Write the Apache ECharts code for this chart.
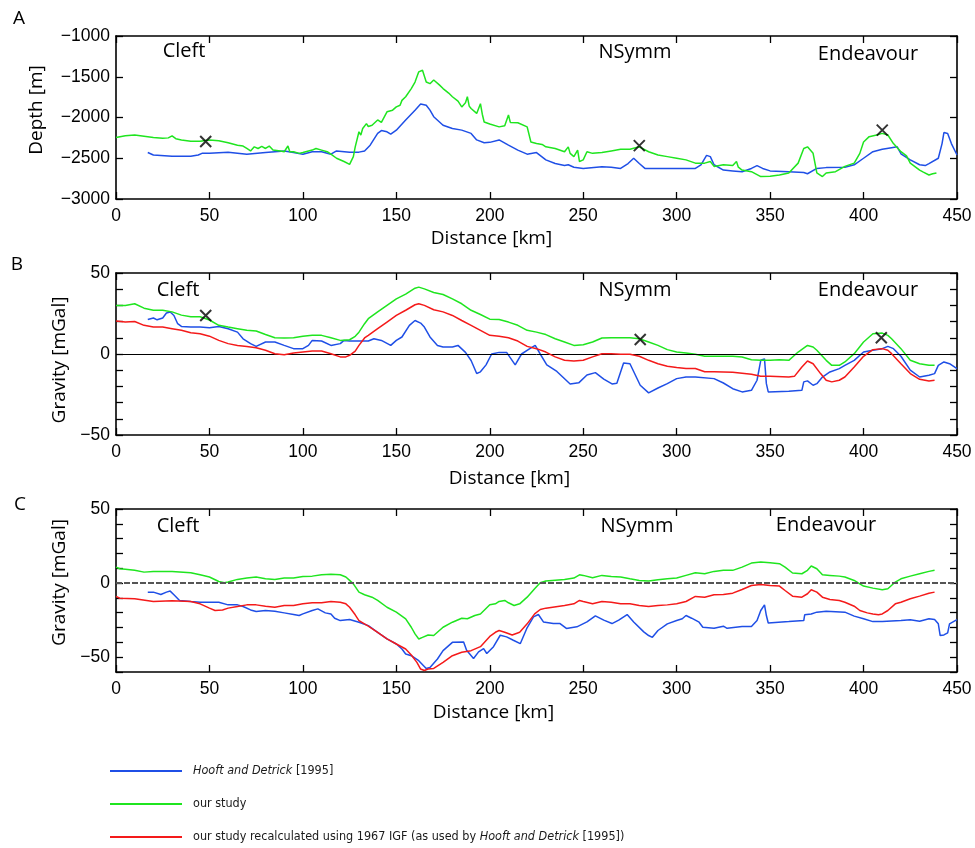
<!DOCTYPE html>
<html>
<head>
<meta charset="utf-8">
<script src="https://cdn.jsdelivr.net/npm/echarts@6/dist/echarts.min.js"></script>
<style>
html,body{margin:0;padding:0;background:#fff;}
#chart{width:975px;height:848px;}
</style>
</head>
<body>
<div id="chart"></div>
<script>
// ---------- DATA ----------
const seriesNames = ['Hooft and Detrick [1995]', 'our study', 'our study recalculated using 1967 IGF (as used by Hooft and Detrick [1995])'];
const xTicks = [0, 50, 100, 150, 200, 250, 300, 350, 400, 450];

// Panel A: depth [m]
const depthHooft = [[17,-2430],[20,-2460],[30,-2475],[40,-2475],[44,-2460],[46,-2440],[50,-2440],[60,-2425],[70,-2450],[80,-2430],[90,-2410],[95,-2430],[100,-2450],[105,-2420],[110,-2420],[115,-2450],[118,-2410],[125,-2425],[130,-2425],[133,-2410],[136,-2340],[140,-2195],[142,-2160],[145,-2175],[147,-2205],[150,-2155],[155,-2030],[160,-1910],[163,-1835],[166,-1850],[168,-1910],[170,-1990],[175,-2095],[180,-2135],[185,-2155],[190,-2195],[193,-2275],[197,-2310],[200,-2305],[205,-2275],[210,-2340],[215,-2400],[220,-2450],[225,-2430],[230,-2520],[235,-2565],[240,-2590],[242,-2580],[245,-2610],[250,-2625],[260,-2605],[265,-2610],[270,-2625],[274,-2565],[277,-2500],[280,-2565],[283,-2625],[290,-2625],[300,-2625],[310,-2625],[313,-2580],[316,-2465],[318,-2480],[320,-2580],[325,-2645],[330,-2655],[335,-2665],[340,-2625],[343,-2590],[346,-2625],[350,-2655],[360,-2665],[368,-2675],[370,-2690],[375,-2625],[380,-2615],[390,-2610],[395,-2580],[400,-2500],[405,-2420],[410,-2390],[415,-2370],[418,-2360],[420,-2445],[425,-2520],[430,-2580],[433,-2590],[435,-2565],[440,-2500],[442,-2320],[443,-2185],[445,-2195],[447,-2320],[450,-2460]];
const depthOur = [[0,-2245],[5,-2225],[10,-2215],[15,-2230],[20,-2245],[25,-2255],[28,-2250],[30,-2225],[32,-2260],[35,-2275],[40,-2290],[45,-2290],[50,-2275],[55,-2285],[60,-2310],[65,-2340],[68,-2350],[70,-2380],[72,-2410],[74,-2360],[76,-2380],[78,-2355],[80,-2380],[82,-2350],[84,-2400],[88,-2410],[90,-2420],[92,-2350],[93,-2420],[95,-2420],[98,-2440],[100,-2430],[103,-2410],[105,-2400],[107,-2380],[110,-2400],[113,-2420],[115,-2450],[118,-2500],[122,-2540],[125,-2575],[127,-2480],[128,-2360],[130,-2175],[131,-2215],[132,-2135],[134,-2075],[135,-2110],[137,-2095],[140,-2030],[142,-2060],[145,-1930],[148,-1910],[150,-1870],[152,-1850],[153,-1790],[155,-1745],[158,-1645],[160,-1565],[162,-1440],[164,-1420],[166,-1565],[168,-1585],[170,-1540],[173,-1600],[175,-1645],[178,-1700],[180,-1745],[183,-1800],[185,-1870],[187,-1820],[188,-1745],[189,-1860],[190,-1890],[193,-1950],[195,-1830],[196,-1960],[197,-2055],[200,-2080],[205,-2115],[208,-2100],[210,-1970],[211,-2060],[212,-2055],[215,-2065],[220,-2115],[222,-2300],[225,-2320],[228,-2330],[230,-2360],[235,-2380],[240,-2420],[242,-2360],[243,-2440],[245,-2480],[247,-2400],[248,-2540],[250,-2520],[252,-2420],[255,-2440],[260,-2430],[265,-2410],[270,-2390],[275,-2390],[280,-2360],[285,-2420],[290,-2460],[295,-2480],[300,-2500],[305,-2520],[310,-2560],[315,-2560],[318,-2540],[320,-2600],[325,-2580],[330,-2590],[332,-2540],[333,-2610],[335,-2645],[340,-2665],[345,-2725],[350,-2720],[355,-2705],[360,-2680],[365,-2560],[368,-2380],[370,-2360],[373,-2440],[375,-2680],[378,-2725],[380,-2680],[385,-2665],[390,-2600],[395,-2560],[398,-2440],[400,-2300],[403,-2235],[407,-2215],[410,-2195],[413,-2215],[416,-2320],[420,-2420],[423,-2470],[425,-2560],[430,-2645],[432,-2670],[435,-2705],[437,-2690],[439,-2680]];
const markersA = [[48,-2295],[280,-2345],[410,-2155]];

// Panel B: gravity [mGal]
const gravBHooft = [[17,21.3],[20,22.2],[22,21.1],[25,22.2],[27,25.3],[29,25.9],[31,23.8],[33,18.7],[35,17],[40,16.6],[45,16.6],[50,16.2],[55,17],[60,15.6],[65,13.5],[68,9.4],[72,6.4],[75,4.7],[80,7.4],[85,7.4],[90,5.3],[95,3.3],[100,3.3],[103,5.3],[105,8.4],[110,8],[115,5.3],[120,6.4],[122,8.4],[125,8],[130,8],[135,8],[138,9.4],[142,8.4],[147,5.3],[150,8.4],[153,10.5],[157,17.7],[160,20.7],[163,19.1],[165,16.6],[168,10.5],[172,5.3],[175,4.3],[180,4.3],[183,5.3],[187,1],[190,-4],[193,-12],[195,-11],[198,-6.7],[201,0],[205,1],[209,1],[213.6,-6.7],[217,0],[221,3],[224.3,5.3],[227,0],[230.5,-6.7],[235.9,-10.8],[243,-18.5],[247.6,-17.8],[252,-13],[256.5,-11.5],[261,-15.5],[265.4,-18.5],[268,-18],[271.6,-5.5],[275,-6],[280.5,-19.3],[285,-24],[290,-21],[295,-18.3],[300,-15.2],[305,-14.2],[310,-14.2],[320,-15.2],[325,-17.9],[330,-21.4],[335,-23.4],[340,-22.4],[343,-16.2],[345,-3.9],[347,-3],[348,-18.3],[349,-23.4],[360,-23],[367,-22.4],[368,-17.2],[370,-16.6],[373,-19.3],[375,-18.3],[378,-14.2],[382,-11.1],[387,-9],[390,-7],[395,-3.9],[400,1.2],[405,2.3],[410,3.3],[413,4.7],[416,3.3],[420,-1.4],[425,-10],[430,-14.2],[435,-13.1],[438,-12.1],[440,-7],[443,-4.9],[446,-6],[450,-9]];
const gravBOur = [[0,30],[5,30],[10,31],[15,28.3],[20,27],[25,27],[30,26],[35,24],[40,23],[45,23],[50,21],[55,17.7],[60,16.6],[65,15.6],[70,14.6],[75,14.2],[80,12],[85,10],[90,9.9],[95,10],[100,11],[105,11.5],[110,11.5],[115,10],[120,8.4],[125,8.8],[128,10.9],[130,13.5],[133,18.7],[135,21.8],[140,26],[145,30],[150,34],[155,37],[160,40.6],[162,41.3],[165,40.2],[170,38],[175,36.7],[180,34],[185,31],[190,27],[195,24.4],[200,21.5],[205,21.3],[210,19.7],[215,17.7],[220,14.6],[225,13.5],[230,12],[235,9.4],[240,7.4],[245,5.3],[250,5.7],[255,7.4],[260,9.9],[265,10],[270,10],[275,10],[280,9.4],[285,7.4],[290,5.3],[295,2.7],[300,1.2],[305,0.6],[310,-0.2],[315,-1.4],[320,-1.4],[325,-1.4],[330,-1.4],[335,-1.8],[340,-3.5],[345,-3.9],[350,-3.9],[355,-3.5],[360,-3.9],[365,1.2],[370,5.3],[373,4.3],[375,2.3],[380,-3.9],[383,-7],[387,-7],[390,-4.9],[395,0.2],[400,7.4],[405,12.5],[410,12.9],[413,11.5],[415,9.4],[420,3.3],[425,-3.9],[430,-6],[435,-7],[438,-7]];
const gravBIgf = [[0,20.3],[5,19.7],[10,20.1],[15,17.7],[20,16.6],[25,16.6],[30,15.6],[35,14.6],[40,13.1],[45,12.5],[50,11],[55,8.4],[60,6.4],[65,5.3],[70,4.7],[75,3.9],[80,2.3],[85,0.2],[90,-0.4],[95,0.6],[100,1.2],[105,1.8],[110,1.8],[115,0.2],[120,-1.8],[123,-1.8],[125,-0.8],[128,1.8],[130,5.3],[133,9.9],[135,11.5],[140,15.6],[145,19.7],[150,23.8],[155,27],[160,30.4],[162,31],[165,30],[170,27.3],[175,26],[180,23.8],[185,20.7],[190,17.7],[195,14.6],[200,11.5],[205,11],[210,10],[215,8],[220,4.7],[225,3.3],[230,1.2],[235,-1.8],[240,-3.9],[245,-4.3],[250,-3.9],[255,-1.8],[260,0.2],[265,0.2],[270,-0.2],[275,-0.2],[280,-1.4],[285,-3.9],[290,-6],[295,-7.6],[300,-8.4],[305,-9],[310,-9],[315,-11],[320,-11],[330,-11.3],[340,-12.5],[345,-13.8],[350,-13.8],[360,-14.2],[363,-13.8],[367,-8],[370,-4.3],[373,-6],[377,-12.1],[380,-16.2],[383,-17.2],[387,-16.2],[390,-14.2],[395,-8],[400,-1.4],[405,2.7],[410,3.3],[413,2.3],[415,0.2],[420,-6],[425,-12.1],[430,-15.6],[435,-16.6],[438,-16.2]];
const markersB = [[48,23.8],[280.5,9],[409.5,10]];

// Panel C: gravity [mGal]
const gravCHooft = [[17,-6.1],[20,-6.1],[24,-7.7],[27,-6.1],[29,-5.4],[31,-7.9],[34,-11.7],[40,-12.4],[45,-12.9],[50,-12.9],[55,-12.9],[60,-14.7],[65,-14.7],[68,-15.8],[72,-18.1],[75,-19.2],[80,-18.5],[85,-19],[90,-20.1],[95,-21.2],[98,-21.9],[100,-20.8],[105,-18.5],[108,-17.4],[112,-20.1],[115,-20.8],[117,-23.7],[120,-25.3],[125,-24.6],[130,-26.4],[135,-28.7],[140,-33.2],[145,-37.7],[150,-41.1],[153,-44.5],[155,-47.9],[158,-49],[162,-52.4],[166,-57.6],[168,-56.9],[172,-51.2],[175,-45.6],[180,-40],[186,-39.7],[187.6,-45.3],[191.3,-50.9],[194,-46.4],[196.7,-44.2],[198.4,-47.5],[202,-42.9],[205.6,-35.2],[209,-36.3],[212.6,-38.6],[216.3,-40.9],[219.8,-30.6],[223.4,-22.8],[226,-21.2],[228.7,-26.2],[234,-27.3],[237.6,-27.3],[241,-30.6],[246.6,-29.5],[252,-26.2],[256.5,-22.1],[261,-25],[265.4,-27.3],[269,-25],[273.5,-21.2],[277,-26.2],[282.4,-32.9],[285,-35.4],[287,-36.6],[290,-32],[295,-27.5],[300,-25.3],[303,-24.1],[305,-21.9],[308,-23.7],[312,-26.4],[314,-29.8],[320,-30.5],[325,-29.1],[327,-30.5],[335,-29.3],[340,-29.3],[343,-25.3],[345,-18.5],[347,-14.7],[348,-21.9],[349,-26.9],[360,-26],[368,-25.3],[368.5,-21.4],[372,-20.8],[375,-19.6],[380,-19],[390,-19.6],[395,-22.3],[400,-24.1],[405,-26],[410,-26],[420,-25.3],[425,-24.8],[430,-25.7],[435,-24.1],[438,-24.6],[440,-27.5],[441,-35.4],[443,-35],[445,-33.6],[446,-27.5],[450,-24.6]];
const gravCOur = [[0,10.8],[2,9.7],[5,9.3],[10,8.6],[15,7.4],[20,7.9],[30,7.9],[40,7],[45,5.6],[50,4.1],[55,1.1],[58,0.2],[60,0.7],[65,2.5],[70,3.4],[75,4.1],[80,2.9],[85,2.5],[90,3.4],[95,3.4],[100,4.5],[105,4.7],[110,5.6],[115,5.9],[120,5.6],[123,4.1],[125,1.8],[127,-0.5],[130,-6.1],[133,-7.9],[137,-9.5],[140,-11.7],[145,-16.3],[150,-19.6],[155,-24.1],[158,-29.8],[160,-34.3],[162,-37.7],[164,-36.6],[167,-35],[170,-35.4],[175,-29.8],[180,-26.4],[185,-23.7],[188,-24.1],[192,-21.9],[195,-20.8],[200,-14.6],[203,-14],[205,-12.4],[208,-11.7],[210,-13.3],[213,-15.1],[216,-14],[220,-9.5],[224,-3.8],[227,0.2],[230,1.4],[240,2.5],[245,3.4],[248,5.6],[250,5.2],[255,3.6],[260,5.2],[265,4.5],[270,4.1],[275,2.9],[280,1.8],[285,1.4],[290,2.3],[295,2.9],[300,3.4],[305,5.2],[310,7],[315,6.3],[320,7.9],[325,8.6],[330,8.6],[335,10.8],[340,13.5],[345,14.2],[350,13.8],[355,13.1],[358,10.8],[362,6.8],[367,6.3],[370,8.6],[372,11.5],[375,9.7],[378,5.6],[382,5.2],[387,4.7],[390,4.1],[395,1.8],[398,-0.5],[400,-2],[405,-3.4],[410,-4.5],[413,-3.8],[417,0.7],[420,2.9],[425,4.7],[430,6.3],[435,7.9],[438,8.6]];
const gravCIgf = [[0,-9],[2,-10.2],[10,-10.6],[20,-12.4],[30,-12],[40,-12.4],[45,-14],[50,-16.9],[53,-18.5],[57,-18.1],[60,-16.9],[65,-15.8],[70,-14.7],[75,-14.7],[80,-15.6],[85,-16.3],[90,-15.1],[95,-15.1],[100,-14],[105,-13.3],[110,-13.3],[115,-12.4],[120,-12.9],[123,-14],[125,-16.3],[128,-21.4],[130,-25.3],[135,-29.1],[140,-33.2],[145,-37.7],[150,-41.1],[155,-44.5],[158,-48.5],[161,-53.5],[163,-58],[165,-59],[167,-58],[170,-57.6],[175,-53.5],[180,-49],[185,-46.7],[190,-45.6],[195,-42.9],[200,-36],[203,-33.2],[205,-32],[208,-33.2],[212,-35],[216,-33.2],[220,-27.5],[224,-20.8],[227,-17.8],[230,-16.9],[240,-15.1],[245,-14],[248,-11.7],[250,-12.4],[255,-14],[260,-12.4],[265,-12.9],[270,-14],[275,-14],[280,-15.1],[285,-15.8],[290,-15.1],[295,-14.7],[300,-14],[305,-12.4],[310,-9],[315,-9.5],[320,-7.9],[325,-7.7],[330,-6.8],[335,-4.3],[340,-1.6],[345,-0.9],[350,-1.6],[355,-2],[358,-5],[362,-8.8],[367,-9.5],[370,-7.2],[372,-4.5],[375,-6.1],[378,-9.5],[382,-11.1],[387,-11.7],[390,-12.9],[395,-15.6],[398,-18.5],[402,-20.1],[405,-20.8],[408,-21.4],[410,-20.8],[413,-18.5],[417,-14],[420,-12.9],[425,-10.6],[430,-8.8],[435,-6.8],[438,-6.1]];

const depthTicks = [-3000, -2500, -2000, -1500, -1000];
const gravTickLabels = [-50, 0, 50];

// ---------- CHART ----------
const colors = ['#1f4fe6', '#1fe51f', '#f41a1a'];
const tickFont = 'Liberation Sans, Arial, sans-serif';
const nameFont = 'Open Sans, Lato, sans-serif';
const minus = v => String(v).replace('-', '\u2212');

const grids = [
  {left: 116, right: 18, top: 36, height: 163},
  {left: 116, right: 18, top: 273, height: 162},
  {left: 116, right: 18, top: 509, height: 163}
];
const axisLineStyle = {show: true, onZero: false, lineStyle: {color: '#000', width: 1.6}};
const tickStyle = {show: true, inside: true, length: 7, lineStyle: {color: '#000', width: 1.3}};
const xNamePad = [90, 54, 86];
const xNameGap = [30, 34, 31];

const xAxes = [];
grids.forEach((g, i) => {
  xAxes.push({
    type: 'value', gridIndex: i, position: 'bottom', min: xTicks[0], max: xTicks[xTicks.length - 1], interval: 50,
    axisLine: axisLineStyle, axisTick: tickStyle,
    axisLabel: {color: '#000', fontSize: 17.5, fontFamily: tickFont, margin: 8},
    splitLine: {show: false},
    name: 'Distance [km]', nameLocation: 'middle', nameGap: xNameGap[i],
    nameTextStyle: {color: '#000', fontSize: 19, fontFamily: nameFont, padding: [0, xNamePad[i], 0, 0]}
  });
});
grids.forEach((g, i) => {
  xAxes.push({
    type: 'value', gridIndex: i, position: 'top', min: 0, max: 450, interval: 50,
    axisLine: axisLineStyle, axisTick: tickStyle,
    axisLabel: {show: false}, splitLine: {show: false}
  });
});

const yCfg = [
  {min: -3000, max: -1000, interval: 500, name: 'Depth [m]', gap: 70, pad: [0, 0, 0, 15],
   fmt: v => minus(v)},
  {min: -50, max: 50, interval: 10, name: 'Gravity [mGal]', gap: 37, pad: [0, 12, 0, 0],
   fmt: v => gravTickLabels.indexOf(v) >= 0 ? minus(v) : ''},
  {min: -60, max: 50, interval: 10, name: 'Gravity [mGal]', gap: 37, pad: [0, 0, 0, 16],
   fmt: v => gravTickLabels.indexOf(v) >= 0 ? minus(v) : ''}
];
const yAxes = [];
yCfg.forEach((c, i) => {
  yAxes.push({
    type: 'value', gridIndex: i, position: 'left', min: c.min, max: c.max, interval: c.interval,
    axisLine: axisLineStyle, axisTick: tickStyle,
    axisLabel: {color: '#000', fontSize: 17.5, fontFamily: tickFont, margin: 6, formatter: c.fmt, showMinLabel: true, showMaxLabel: true},
    splitLine: {show: false},
    name: c.name, nameLocation: 'middle', nameGap: c.gap,
    nameTextStyle: {color: '#000', fontSize: 19, fontFamily: nameFont, padding: c.pad}
  });
});
yCfg.forEach((c, i) => {
  yAxes.push({
    type: 'value', gridIndex: i, position: 'right', min: c.min, max: c.max, interval: c.interval,
    axisLine: axisLineStyle, axisTick: tickStyle,
    axisLabel: {show: false}, splitLine: {show: false}
  });
});

function line(name, data, gi, colorIdx, extra) {
  return Object.assign({
    type: 'line', name: name, data: data, xAxisIndex: gi, yAxisIndex: gi,
    showSymbol: false, symbol: 'none', smooth: false, animation: false,
    lineStyle: {color: colors[colorIdx], width: 1.5}, itemStyle: {color: colors[colorIdx]},
    z: 3 + colorIdx
  }, extra || {});
}
function markers(data, gi) {
  return {
    type: 'scatter', name: 'ridge axis', data: data, xAxisIndex: gi, yAxisIndex: gi,
    symbol: 'path://M0,0L10,10M10,0L0,10', symbolSize: 11, animation: false, z: 10,
    itemStyle: {color: 'none', borderColor: '#000', borderWidth: 2}
  };
}

const series = [
  line(seriesNames[1], depthOur, 0, 1),
  line(seriesNames[0], depthHooft, 0, 0),
  markers(markersA, 0),
  line(seriesNames[1], gravBOur, 1, 1),
  line(seriesNames[2], gravBIgf, 1, 2, {
    markLine: {silent: true, symbol: 'none', label: {show: false}, animation: false,
      lineStyle: {color: '#000', width: 1, type: 'solid'}, data: [{yAxis: 0}]}
  }),
  line(seriesNames[0], gravBHooft, 1, 0),
  markers(markersB, 1),
  line(seriesNames[1], gravCOur, 2, 1, {
    markLine: {silent: true, symbol: 'none', label: {show: false}, animation: false,
      lineStyle: {color: '#555', width: 2, type: [6, 2]}, data: [{yAxis: 0}]}
  }),
  line(seriesNames[2], gravCIgf, 2, 2),
  line(seriesNames[0], gravCHooft, 2, 0)
];

function txt(x, y, s, size, extra) {
  return Object.assign({
    type: 'text', x: x, y: y, silent: true,
    style: {text: s, fill: '#000', font: (size || 20) + 'px ' + nameFont, align: 'center', verticalAlign: 'middle'}
  }, extra || {});
}
const graphics = [
  txt(19, 19, 'A', 19), txt(17, 265, 'B', 19), txt(20, 505, 'C', 19),
  txt(184, 51, 'Cleft'), txt(635, 52, 'NSymm'), txt(868, 54, 'Endeavour'),
  txt(178, 290, 'Cleft'), txt(635, 290, 'NSymm'), txt(868, 290, 'Endeavour'),
  txt(178, 526, 'Cleft'), txt(637, 526, 'NSymm'), txt(826, 525, 'Endeavour')
];

const legendFont = 'Liberation Sans Narrow, DejaVu Sans Condensed, Arial Narrow, sans-serif';
const option = {
  backgroundColor: '#fff',
  animation: false,
  grid: grids,
  xAxis: xAxes,
  yAxis: yAxes,
  series: series,
  graphic: graphics,
  legend: {
    data: seriesNames, orient: 'vertical', left: 110, top: 762, padding: 0, itemGap: 15, height: 86,
    itemWidth: 72, itemHeight: 2, icon: 'rect', selectedMode: false,
    formatter: function (name) {
      if (name === seriesNames[0]) return '{i|Hooft and Detrick} [1995]';
      if (name === seriesNames[2]) return 'our study recalculated using 1967 IGF (as used by {i|Hooft and Detrick} [1995])';
      return name;
    },
    textStyle: {color: '#1a1a1a', fontSize: 12.5, fontFamily: legendFont, lineHeight: 18, padding: [0, 0, 0, 6],
      rich: {i: {fontStyle: 'italic', fontSize: 12.5, fontFamily: legendFont, color: '#1a1a1a', lineHeight: 18}}}
  }
};

const chart = echarts.init(document.getElementById('chart'), null, {renderer: 'canvas'});
chart.setOption(option);
</script>
</body>
</html>
